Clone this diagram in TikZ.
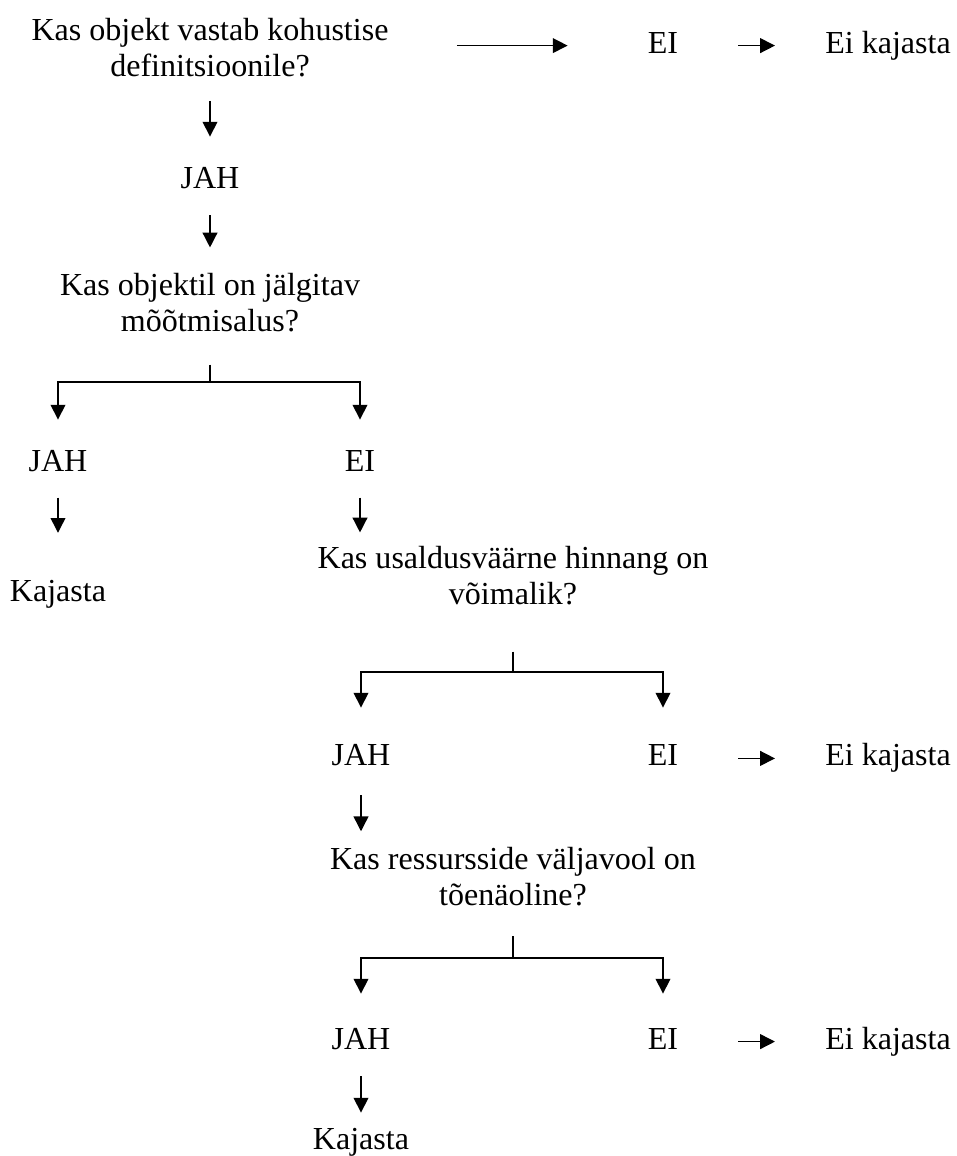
\documentclass[tikz,border=0pt]{standalone}
\usepackage{fontspec}
\setmainfont{Liberation Serif}
\usetikzlibrary{arrows.meta}
\tikzset{>/.tip={Triangle[length=10.5pt,width=10.5pt]},
  txt/.style={inner sep=0pt, align=center, font=\fontsize{22.8}{25.5}\selectfont},
  lbl/.style={txt, text height=15.7pt, text depth=5pt},
  flow/.style={->, line width=1pt},
  stem/.style={line width=1pt}}

\begin{document}
\begin{tikzpicture}
\useasboundingbox (0,0) rectangle (23.9,-28.9);
\node[txt] (q1)   at (5.25,-1.2)     {Kas objekt vastab kohustise\\definitsioonile?};
\node[lbl] (ei1)  at (16.575,-1.14)  {EI};
\node[lbl] (nk1)  at (22.2,-1.14)    {Ei kajasta};
\node[lbl] (jah1) at (5.25,-4.525)   {JAH};
\node[txt] (q2)   at (5.25,-7.575)   {Kas objektil on jälgitav\\mõõtmisalus?};
\node[lbl] (jah2) at (1.45,-11.59)   {JAH};
\node[lbl] (ei2)  at (9.0,-11.59)    {EI};
\node[lbl] (kaj1) at (1.45,-14.84)   {Kajasta};
\node[txt] (q3)   at (12.825,-14.4)  {Kas usaldusväärne hinnang on\\võimalik?};
\node[lbl] (jah3) at (9.025,-18.96)  {JAH};
\node[lbl] (ei3)  at (16.575,-18.96) {EI};
\node[lbl] (nk2)  at (22.2,-18.96)   {Ei kajasta};
\node[txt] (q4)   at (12.825,-21.92) {Kas ressursside väljavool on\\tõenäoline?};
\node[lbl] (jah4) at (9.025,-26.04)  {JAH};
\node[lbl] (ei4)  at (16.575,-26.04) {EI};
\node[lbl] (nk3)  at (22.2,-26.04)   {Ei kajasta};
\node[lbl] (kaj2) at (9.025,-28.56)  {Kajasta};
\coordinate (b1) at (5.25,-9.55);
\coordinate (b2) at (12.825,-16.8);
\coordinate (b3) at (12.825,-23.95);
% first question
\draw[flow, shorten <=1.7cm, shorten >=2cm] (q1.east |- ei1) to (ei1.west);
\draw[flow, shorten <=1.5cm, shorten >=1.25cm] (ei1) to (nk1);
\draw[flow, shorten <=0.58cm, shorten >=0.74cm] (q1) to (jah1);
\draw[flow, shorten <=0.49cm, shorten >=0.65cm] (jah1) to (q2);
% second question
\draw[stem, shorten <=0.8cm] (q2) to (b1);
\draw[flow, shorten >=0.73cm] (b1) -| (jah2);
\draw[flow, shorten >=0.73cm] (b1) -| (ei2);
\draw[flow, shorten <=0.48cm, shorten >=1.15cm] (jah2) to (kaj1);
\draw[flow, shorten <=0.48cm, shorten >=0.35cm] (ei2) to (ei2 |- q3.north);
% third question
\draw[stem, shorten <=1.15cm] (q3) to (b2);
\draw[flow, shorten >=0.9cm] (b2) -| (jah3);
\draw[flow, shorten >=0.9cm] (b2) -| (ei3);
\draw[flow, shorten <=1.5cm, shorten >=1.25cm] (ei3) to (nk2);
\draw[flow, shorten <=0.55cm, shorten >=0.4cm] (jah3) to (jah3 |- q4.north);
% fourth question
\draw[stem, shorten <=0.75cm] (q4) to (b3);
\draw[flow, shorten >=0.83cm] (b3) -| (jah4);
\draw[flow, shorten >=0.83cm] (b3) -| (ei4);
\draw[flow, shorten <=1.5cm, shorten >=1.25cm] (ei4) to (nk3);
\draw[flow, shorten <=0.5cm, shorten >=0.375cm] (jah4) to (kaj2);
\end{tikzpicture}
\end{document}
